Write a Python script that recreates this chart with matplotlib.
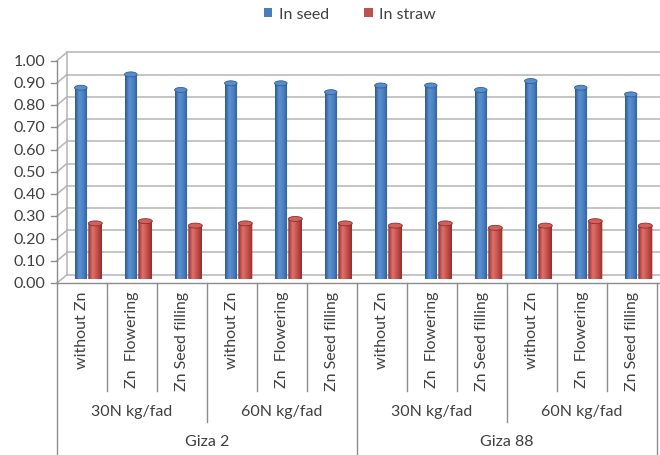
import matplotlib
matplotlib.use('Agg')
import matplotlib.pyplot as plt
import numpy as np
from matplotlib.patches import Ellipse, PathPatch, Patch
from matplotlib.path import Path
from matplotlib.colors import LinearSegmentedColormap
from matplotlib.transforms import blended_transform_factory

# data
varieties = ['Giza 2', 'Giza 88']
n_levels = ['30N kg/fad', '60N kg/fad']
treatments = ['without Zn', 'Zn  Flowering', 'Zn Seed filling']
in_seed = [0.86, 0.92, 0.85, 0.88, 0.88, 0.84, 0.87, 0.87, 0.85, 0.89, 0.86, 0.83]
in_straw = [0.25, 0.26, 0.24, 0.25, 0.27, 0.25, 0.24, 0.25, 0.23, 0.24, 0.26, 0.24]
yticks = np.arange(0, 1.01, 0.1)

plt.rcParams['font.family'] = ['Lato', 'DejaVu Sans']
TXT = '#404040'
GRID = '#b4b4b4'
AX = '#8c8c8c'
FS = 11.5

W, H = 660, 456
fig = plt.figure(figsize=(W / 100, H / 100), dpi=100)
# mid-depth plane: y=0 at pixel 280, 222.4 px per unit; front x from 57 to 657
ax = fig.add_axes([57 / W, (H - 280) / H, 600 / W, 222.4 / H])
ax.axis('off')

FRONT_DY, BACK_DY = -4 / 222.4, 4.3 / 222.4
BACK_DX = 0.2


def fy(py):
    return 1 - py / H


bt = blended_transform_factory(ax.transData, fig.transFigure)

# back wall grid + perspective left edge
for v in yticks:
    ax.plot([-0.5 + BACK_DX, 11.7], [v + BACK_DY] * 2, color=GRID, lw=1.1, zorder=1, clip_on=False)
    ax.plot([-0.5, -0.5 + BACK_DX], [v + FRONT_DY, v + BACK_DY], color=GRID, lw=1.1, zorder=1, clip_on=False)
    ax.plot([-0.62, -0.5], [v + FRONT_DY] * 2, color=AX, lw=1, zorder=1, clip_on=False)
    ax.text(-0.74, v + FRONT_DY, f'{v:.2f}', ha='right', va='center', fontsize=FS, color=TXT)
ax.plot([-0.5 + BACK_DX] * 2, [BACK_DY, 1 + BACK_DY], color=GRID, lw=1.1, zorder=1, clip_on=False)
ax.plot([-0.5] * 2, [FRONT_DY, 1 + FRONT_DY], color=AX, lw=1, zorder=2, clip_on=False)

blue_map = LinearSegmentedColormap.from_list('b', ['#2b5a91', '#5d92d2', '#4a7fc0', '#2d5c94'])
red_map = LinearSegmentedColormap.from_list('r', ['#8f2d2a', '#e0716c', '#c24f4b', '#922f2c'])
grad = np.linspace(0, 1, 64).reshape(1, -1)
RY = 2.5 / 222.4


def cylinder(xc, w, h, cmap, top_face, edge, z):
    x0, x1 = xc - w / 2, xc + w / 2
    t = np.linspace(np.pi, 2 * np.pi, 30)
    verts = [(x0, h)] + list(zip(xc + w / 2 * np.cos(t), RY * np.sin(t))) + [(x1, h), (x0, h)]
    patch = PathPatch(Path(verts), facecolor='none', edgecolor='none')
    ax.add_patch(patch)
    im = ax.imshow(grad, cmap=cmap, extent=(x0, x1, -RY, h), aspect='auto',
                   zorder=z, interpolation='bilinear')
    im.set_clip_path(patch)
    ax.add_patch(Ellipse((xc, h), w, 2 * RY, facecolor=top_face, edgecolor=edge,
                         lw=0.6, zorder=z + 0.1))


x = np.arange(len(in_seed))
for i in x:
    cylinder(i - 0.024, 0.25, in_seed[i], blue_map, '#5a8cc9', '#2f5f99', 3)
    cylinder(i + 0.266, 0.28, in_straw[i], red_map, '#d2605c', '#8f2f2c', 4)

ax.set_xlim(-0.5, 11.5)
ax.set_ylim(0, 1)

# category table below the plot
ax.plot([-0.5, 11.7], [fy(284)] * 2, color=AX, lw=1, transform=bt, clip_on=False)
for k in range(13):
    if k % 6 == 0:
        bottom = 456
    elif k % 3 == 0:
        bottom = 423
    else:
        bottom = 392
    ax.plot([k - 0.5] * 2, [fy(284), fy(bottom)], color=AX, lw=1, transform=bt, clip_on=False)

labels = [t for _ in range(len(varieties) * len(n_levels)) for t in treatments]
for i, lab in enumerate(labels):
    ax.text(i, fy(292), lab, rotation=90, ha='center', va='top', fontsize=FS,
            color=TXT, transform=bt)
for g in range(4):
    ax.text(3 * g + 1, fy(412), n_levels[g % 2], ha='center', va='center',
            fontsize=FS, color=TXT, transform=bt)
for j, name in enumerate(varieties):
    ax.text(6 * j + 2.5, fy(442), name, ha='center', va='center', fontsize=FS,
            color=TXT, transform=bt)

handles = [Patch(facecolor='#4a7ebb', edgecolor='none'), Patch(facecolor='#c0504d', edgecolor='none')]
fig.legend(handles, ['In seed', 'In straw'], loc='center', bbox_to_anchor=(0.53, fy(15)),
           ncol=2, frameon=False, fontsize=FS, handlelength=0.55, handleheight=0.55,
           handletextpad=0.4, columnspacing=2.2, labelcolor=TXT)

fig.savefig('out.png', dpi=100)
